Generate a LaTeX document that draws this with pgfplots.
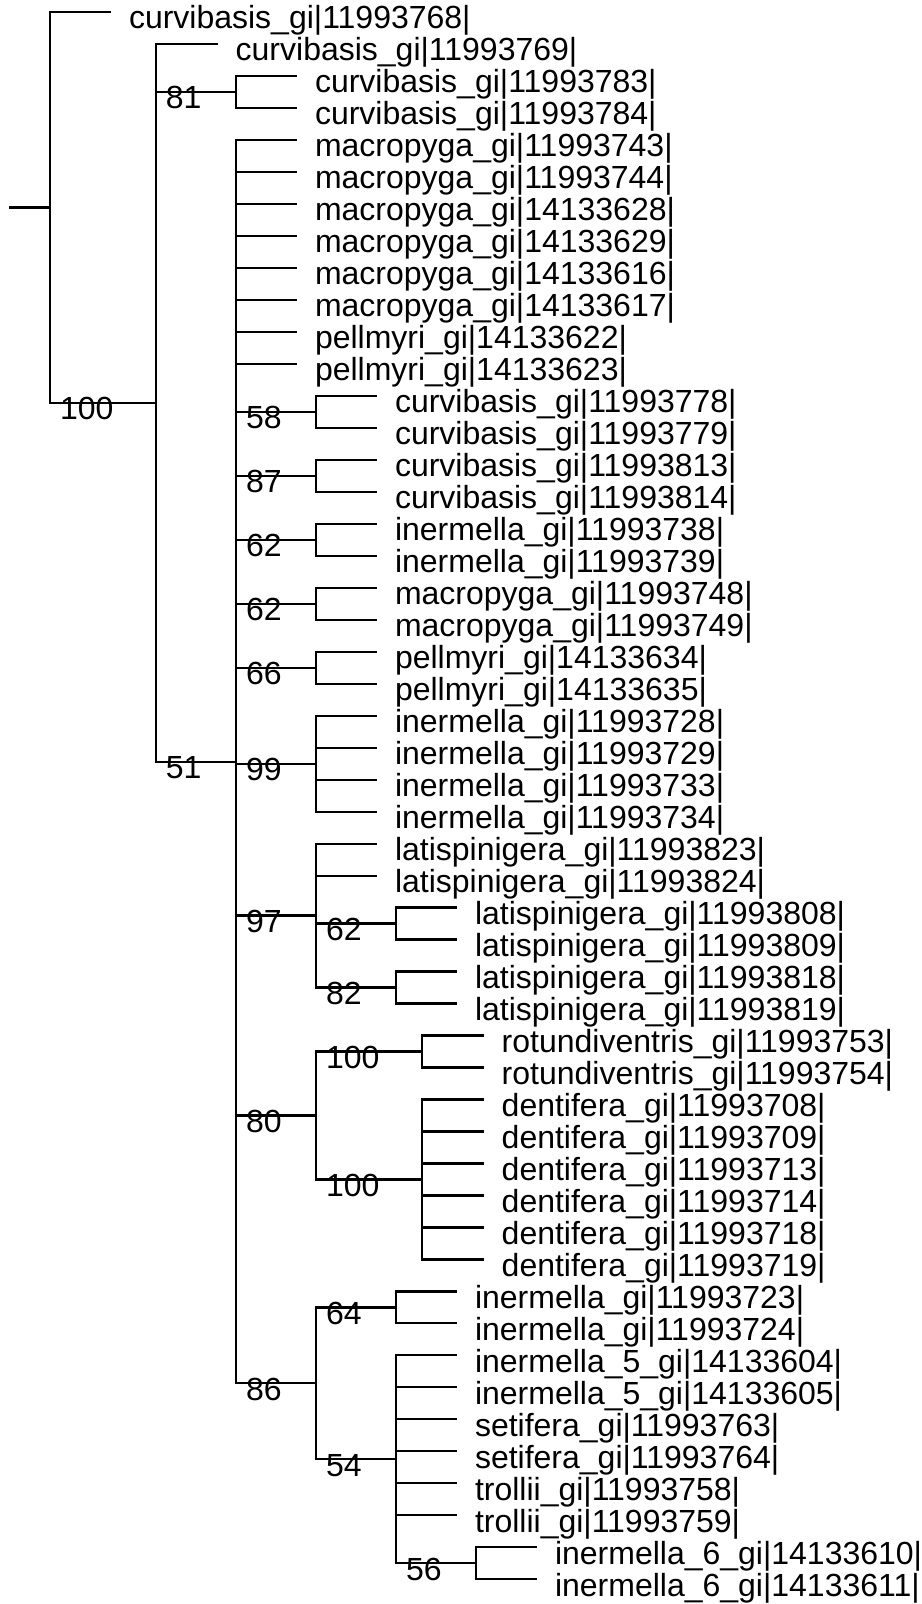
\documentclass[border=0pt]{standalone}
\usepackage{fontspec}
\setmainfont{Liberation Sans}
\usepackage{pgfplots}
\usepackage{pgfplotstable}
\pgfplotsset{compat=1.18}

% tree segments: x1 y1 x2 y2  (x in pixels, y in leaf index)
\pgfplotstableread{
x1 y1 x2 y2
10 7.109375 50 7.109375
50 1 50 13.21875
50 1 110 1
50 13.21875 155.7 13.21875
155.7 2 155.7 24.4375
155.7 2 216.7 2
155.7 3.5 236 3.5
155.7 24.4375 236 24.4375
236 3 236 4
236 3 296 3
236 4 296 4
236 5 236 43.875
236 5 296 5
236 6 296 6
236 7 296 7
236 8 296 8
236 9 296 9
236 10 296 10
236 11 296 11
236 12 296 12
236 13.5 316 13.5
236 15.5 316 15.5
236 17.5 316 17.5
236 19.5 316 19.5
236 21.5 316 21.5
236 24.5 316 24.5
236 29.25 316 29.25
236 35.5 316 35.5
236 43.875 316 43.875
316 13 316 14
316 15 316 16
316 17 316 18
316 19 316 20
316 21 316 22
316 23 316 26
316 27 316 31.5
316 33.5 316 37.5
316 41.5 316 46.25
316 13 376 13
316 14 376 14
316 15 376 15
316 16 376 16
316 17 376 17
316 18 376 18
316 19 376 19
316 20 376 20
316 21 376 21
316 22 376 22
316 23 376 23
316 24 376 24
316 25 376 25
316 26 376 26
316 27 376 27
316 28 376 28
316 29.5 396 29.5
316 31.5 396 31.5
396 29 396 30
396 31 396 32
396 29 456 29
396 30 456 30
396 31 456 31
396 32 456 32
316 33.5 421.7 33.5
316 37.5 421.7 37.5
421.7 33 421.7 34
421.7 35 421.7 40
421.7 33 482.7 33
421.7 34 482.7 34
421.7 35 482.7 35
421.7 36 482.7 36
421.7 37 482.7 37
421.7 38 482.7 38
421.7 39 482.7 39
421.7 40 482.7 40
316 41.5 396 41.5
316 46.25 396 46.25
396 41 396 42
396 43 396 49.5
396 41 456 41
396 42 456 42
396 43 456 43
396 44 456 44
396 45 456 45
396 46 456 46
396 47 456 47
396 48 456 48
396 49.5 476 49.5
476 49 476 50
476 49 536 49
476 50 536 50
}\segs

\pgfplotstableread{
x y label
50 13.21875 100
155.7 3.5 81
155.7 24.4375 51
236 13.5 58
236 15.5 87
236 17.5 62
236 19.5 62
236 21.5 66
236 24.5 99
236 29.25 97
236 35.5 80
236 43.875 86
316 29.5 62
316 31.5 82
316 33.5 100
316 37.5 100
316 41.5 64
316 46.25 54
396 49.5 56
}\support

\catcode`\_=12
\pgfplotstableread{
x y label
110 1 curvibasis_gi|11993768|
216.7 2 curvibasis_gi|11993769|
296 3 curvibasis_gi|11993783|
296 4 curvibasis_gi|11993784|
296 5 macropyga_gi|11993743|
296 6 macropyga_gi|11993744|
296 7 macropyga_gi|14133628|
296 8 macropyga_gi|14133629|
296 9 macropyga_gi|14133616|
296 10 macropyga_gi|14133617|
296 11 pellmyri_gi|14133622|
296 12 pellmyri_gi|14133623|
376 13 curvibasis_gi|11993778|
376 14 curvibasis_gi|11993779|
376 15 curvibasis_gi|11993813|
376 16 curvibasis_gi|11993814|
376 17 inermella_gi|11993738|
376 18 inermella_gi|11993739|
376 19 macropyga_gi|11993748|
376 20 macropyga_gi|11993749|
376 21 pellmyri_gi|14133634|
376 22 pellmyri_gi|14133635|
376 23 inermella_gi|11993728|
376 24 inermella_gi|11993729|
376 25 inermella_gi|11993733|
376 26 inermella_gi|11993734|
376 27 latispinigera_gi|11993823|
376 28 latispinigera_gi|11993824|
456 29 latispinigera_gi|11993808|
456 30 latispinigera_gi|11993809|
456 31 latispinigera_gi|11993818|
456 32 latispinigera_gi|11993819|
482.7 33 rotundiventris_gi|11993753|
482.7 34 rotundiventris_gi|11993754|
482.7 35 dentifera_gi|11993708|
482.7 36 dentifera_gi|11993709|
482.7 37 dentifera_gi|11993713|
482.7 38 dentifera_gi|11993714|
482.7 39 dentifera_gi|11993718|
482.7 40 dentifera_gi|11993719|
456 41 inermella_gi|11993723|
456 42 inermella_gi|11993724|
456 43 inermella_5_gi|14133604|
456 44 inermella_5_gi|14133605|
456 45 setifera_gi|11993763|
456 46 setifera_gi|11993764|
456 47 trollii_gi|11993758|
456 48 trollii_gi|11993759|
536 49 inermella_6_gi|14133610|
536 50 inermella_6_gi|14133611|
}\leaves
\catcode`\_=8

\begin{document}
\begin{tikzpicture}
\begin{axis}[
  scale only axis, width=460.5pt, height=802pt,
  xmin=0, xmax=921, ymin=0.62482, ymax=50.7735, y dir=reverse,
  hide axis, clip=false,
]
\addplot[black, line width=1.1pt, line cap=rect,
  quiver={u=\thisrow{x2}-\thisrow{x1}, v=\thisrow{y2}-\thisrow{y1},
          every arrow/.append style={line width=1.1pt, line cap=rect}}]
  table[x=x1, y=y1] {\segs};
\addplot[draw=none, mark=none, nodes near coords, point meta=explicit symbolic,
  every node near coord/.append style={anchor=base west, inner sep=0pt,
    xshift=9.3pt, yshift=-8.5pt, font=\fontsize{16}{19}\selectfont, text=black}]
  table[x=x, y=y, meta=label] {\leaves};
\addplot[draw=none, mark=none, nodes near coords, point meta=explicit symbolic,
  every node near coord/.append style={anchor=base west, inner sep=0pt,
    xshift=4.85pt, yshift=-8.5pt, font=\fontsize{16}{19}\selectfont, text=black}]
  table[x=x, y=y, meta=label] {\support};
\end{axis}
\pgfresetboundingbox
\path[use as bounding box] (current axis.south west) rectangle (current axis.north east);
\end{tikzpicture}
\end{document}
